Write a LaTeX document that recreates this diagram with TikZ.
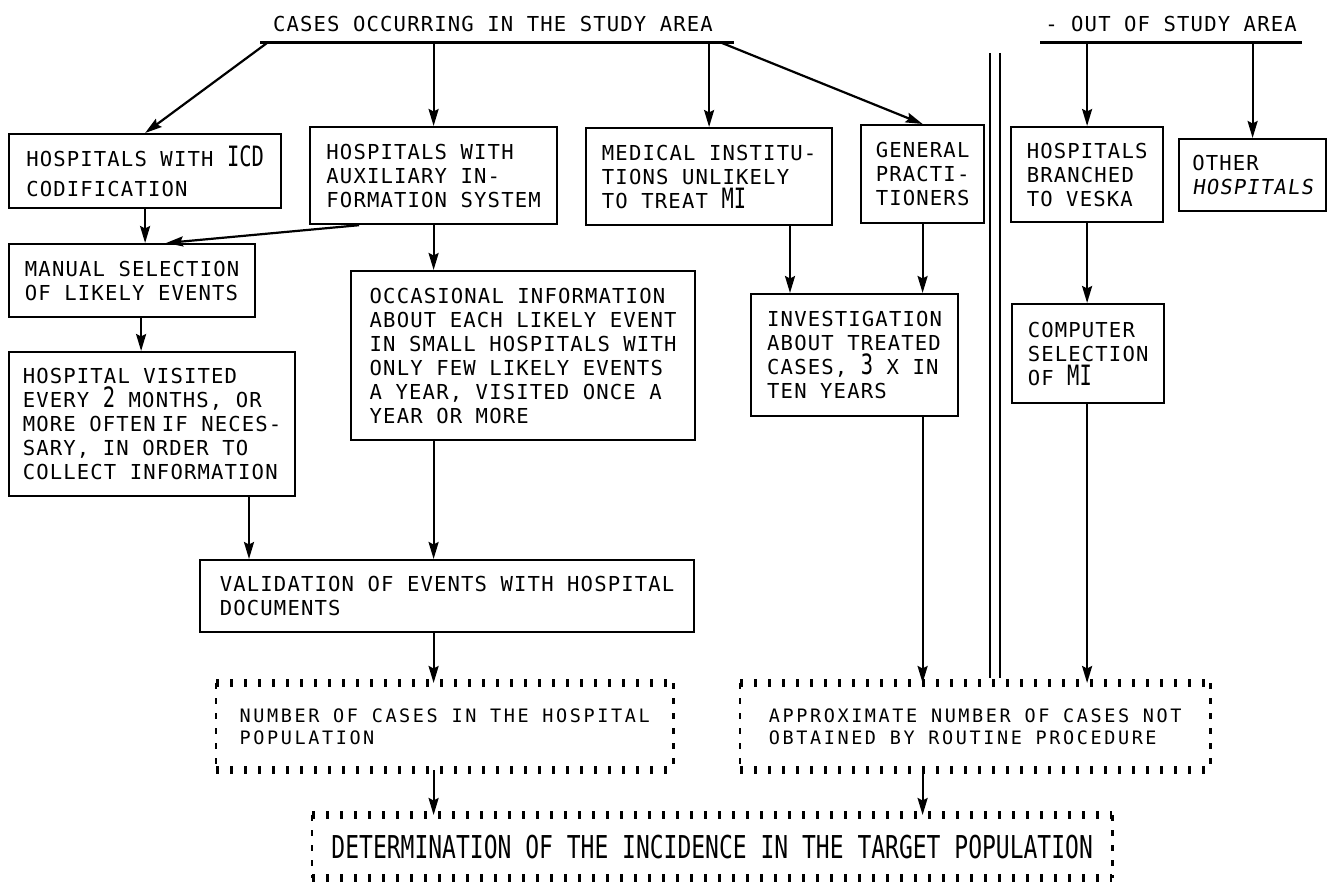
\documentclass[tikz,border=0pt]{standalone}
\usepackage{fontspec}
\usetikzlibrary{arrows.meta,calc}
\newfontfamily\plotfont[LetterSpace=5.5]{DejaVu Sans Mono}
\newfontfamily\plotslant[LetterSpace=5.5,FakeSlant=0.15]{DejaVu Sans Mono}
\newfontfamily\plotsmall[LetterSpace=14]{DejaVu Sans Mono}
\newfontfamily\plotcond[FakeStretch=0.73]{DejaVu Sans Mono}
\newcommand\txtreg{\plotfont\fontsize{20.6pt}{24pt}\selectfont\lineskiplimit=-100pt\lineskip=0pt}
\newcommand\txtsmall{\plotsmall\fontsize{18.5pt}{22pt}\selectfont}
\newcommand\txtcond{\plotcond\fontsize{31.5pt}{34pt}\selectfont}
\newcommand\tallc[1]{{\plotcond\fontsize{28pt}{24pt}\selectfont #1}}
\tikzset{
  box/.style={draw, line width=2.2pt, inner sep=0pt, align=left, anchor=north west, font=\txtreg},
  dotbox/.style={inner sep=0pt, align=left, anchor=north west, font=\txtsmall},
  tickline/.style={line width=8pt, dash pattern=on 3pt off 11pt},
  sideline/.style={line width=2.6pt, dash pattern=on 6pt off 9pt},
  arr/.style={line width=2.2pt, -{Stealth[length=17pt,width=10pt,inset=2.5pt]}},
  bar/.style={line width=3pt},
  plain/.style={line width=2pt}
}
\begin{document}
\begin{tikzpicture}[x=1pt,y=-1pt]
\useasboundingbox (0,0) rectangle (1333,882);
\fill[white] (0,0) rectangle (1333,882);

% titles and bars
\node[font=\txtreg] (t1) at (493,24) {CASES OCCURRING IN THE STUDY AREA};
\node[font=\txtreg] (t2) at (1171,24) {- OUT OF STUDY AREA};
\coordinate (b1l) at (260,43); \coordinate (b1r) at (734,43);
\coordinate (b2l) at (1040,43); \coordinate (b2r) at (1302,43);
\draw[bar] (b1l) -- (b1r);
\draw[bar] (b2l) -- (b2r);
\coordinate (s1) at (267,43);
\coordinate (s4) at (722,43);

% double separating line
\coordinate (d1t) at (990,53); \coordinate (d1b) at (990,678);
\coordinate (d2t) at (1000,53); \coordinate (d2b) at (1000,678);
\draw[plain] (d1t) -- (d1b);
\draw[plain] (d2t) -- (d2b);

% row 1
\node[box, minimum width=272pt, minimum height=74pt] (icd) at (8,133) {HOSPITALS WITH \tallc{ICD}\\[6pt]CODIFICATION};
\node[box, minimum width=247pt, minimum height=97pt] (aux) at (309,126) {HOSPITALS WITH\\AUXILIARY IN-\\FORMATION SYSTEM};
\node[box, minimum width=246pt, minimum height=97pt] (med) at (585,127) {MEDICAL INSTITU-\\TIONS UNLIKELY\\TO TREAT \tallc{MI}};
\node[box, minimum width=123pt, minimum height=98pt] (gp) at (860,124) {GENERAL\\PRACTI-\\TIONERS};
\node[box, minimum width=152pt, minimum height=95pt] (veska) at (1010,126) {HOSPITALS\\BRANCHED\\TO VESKA};
\node[box, minimum width=147pt, minimum height=72pt] (other) at (1178,138) {OTHER\\{\plotslant HOSPITALS}};

% row 2
\node[box, minimum width=246pt, minimum height=73pt] (manual) at (8,243) {MANUAL SELECTION\\OF LIKELY EVENTS};
\node[box, minimum width=344pt, minimum height=169pt] (occ) at (350,270) {OCCASIONAL INFORMATION\\ABOUT EACH LIKELY EVENT\\IN SMALL HOSPITALS WITH\\ONLY FEW LIKELY EVENTS\\A YEAR, VISITED ONCE A\\YEAR OR MORE};
\node[box, minimum width=207pt, minimum height=122pt] (inv) at (750,293) {INVESTIGATION\\ABOUT TREATED\\CASES, \tallc{3} X IN\\TEN YEARS};
\node[box, minimum width=152pt, minimum height=99pt] (comp) at (1011,303) {COMPUTER\\SELECTION\\OF \tallc{MI}};

% row 3
\node[box, minimum width=286pt, minimum height=144pt] (hv) at (8,351) {HOSPITAL VISITED\\EVERY \tallc{2} MONTHS, OR\\MORE OFTEN\hspace{6pt}IF NECES-\\SARY, IN ORDER TO\\COLLECT INFORMATION};

% row 4
\node[box, minimum width=494pt, minimum height=72pt] (val) at (199,559) {VALIDATION OF EVENTS WITH HOSPITAL\\DOCUMENTS};

% row 5 and 6 (dotted)
\node[dotbox, minimum width=457pt, minimum height=87pt] (num) at (216,683) {NUMBER OF CASES IN THE HOSPITAL\\POPULATION};
\node[dotbox, minimum width=470pt, minimum height=87pt] (approx) at (740,683) {APPROXIMATE NUMBER OF CASES NOT\\OBTAINED BY ROUTINE PROCEDURE};
\node[dotbox, font=\txtcond, align=center, minimum width=800pt, minimum height=63pt] (det) at (312,815) {DETERMINATION OF THE INCIDENCE IN THE TARGET POPULATION};

\foreach \n in {num,approx,det}{
  \draw[tickline] (\n.north west) -- (\n.north east);
  \draw[tickline] (\n.south west) -- (\n.south east);
  \draw[sideline] (\n.north west) -- (\n.south west);
  \draw[sideline] (\n.north east) -- (\n.south east);
}

% connectors
\draw[arr] (s1) -- (icd.north);
\draw[arr] (aux.north |- b1l) -- (aux.north);
\draw[arr] (med.north |- b1l) -- (med.north);
\draw[arr] (s4) -- (gp.north);
\draw[arr] (veska.north |- b2l) -- (veska.north);
\draw[arr] (other.north |- b2l) -- (other.north);

\draw[arr] (icd.south) -- (icd.south |- manual.north);
\coordinate (am1) at ($(aux.south west)+(50,0)$);
\coordinate (am2) at ($(manual.north)+(34,0)$);
\draw[arr] (am1) -- (am2);
\draw[arr] (aux.south) -- (aux.south |- occ.north);
\coordinate (inv40) at ($(inv.north west)+(40,0)$);
\draw[arr] (med.south -| inv40) -- (inv40);
\draw[arr] (gp.south) -- (gp.south |- inv.north);
\draw[arr] (veska.south) -- (veska.south |- comp.north);

\coordinate (mh) at ($(manual.south)+(9,0)$);
\draw[arr] (mh) -- (mh |- hv.north);
\coordinate (hvv) at ($(val.north west)+(50,0)$);
\draw[arr] (hvv |- hv.south) -- (hvv);
\draw[arr] (occ.south -| aux.south) -- (val.north -| aux.south);
\draw[arr] (val.south -| aux.south) -- (num.north -| aux.south);
\draw[arr] (num.south -| aux.south) -- (det.north -| aux.south);
\draw[arr] (inv.south -| gp.south) -- (approx.north -| gp.south);
\draw[arr] (comp.south -| veska.south) -- (approx.north -| veska.south);
\draw[arr] (approx.south -| gp.south) -- (det.north -| gp.south);
\end{tikzpicture}
\end{document}
